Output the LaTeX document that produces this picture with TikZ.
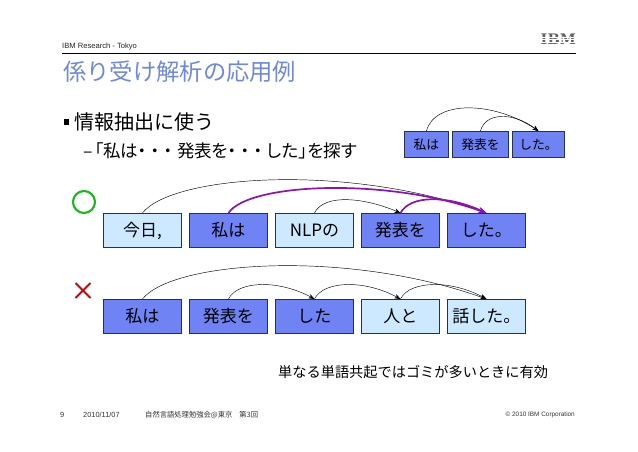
\documentclass[tikz,border=0pt]{standalone}
\usepackage{fontspec}
\setmainfont{Liberation Sans}
\newfontfamily\jpf{Noto Sans CJK JP}
\newfontfamily\jpp[RawFeature=+palt]{Noto Sans CJK JP}
\usetikzlibrary{arrows.meta}
\definecolor{titleblue}{HTML}{7088D8}
\definecolor{darkfill}{HTML}{6F83F5}
\definecolor{lightfill}{HTML}{CCE9FF}
\definecolor{edgecol}{HTML}{24324F}
\definecolor{purp}{HTML}{8A14B0}
\definecolor{okgreen}{HTML}{18B818}
\definecolor{ngred}{HTML}{C00A0A}
\newcommand{\dotk}{・\kern4.2pt}
\tikzset{
  wordbox/.style={draw=edgecol,line width=0.9pt,anchor=north west,inner sep=0pt,text=black,font=\jpf\fontsize{17}{17}\selectfont,align=center},
  big/.style={wordbox,minimum width=78pt,minimum height=34pt},
  dk/.style={fill=darkfill},
  lt/.style={fill=lightfill},
  thinarc/.style={draw=black,line width=0.45pt,-{Stealth[length=6pt,width=4.5pt]}},
  thickarc/.style={draw=purp,line width=1.7pt,-{Stealth[length=8pt,width=6pt]}},
  txt/.style={inner sep=0pt,anchor=west,text=black},
  foot/.style={txt,font=\fontsize{7.4}{8}\selectfont,text=black!80}
}
\begin{document}
\begin{tikzpicture}[x=1pt,y=-1pt]
\useasboundingbox (0,0) rectangle (638,452);
\fill[white] (0,0) rectangle (638,452);
% header
\node[txt,font=\fontsize{7.6}{8}\selectfont,text=black!85] (hdr) at (62,47) {IBM Research - Tokyo};
\coordinate (ruleL) at (62,53);
\coordinate (ruleR) at (576,53);
\draw[black,line width=0.7pt] (ruleL) -- (ruleR);
\node[inner sep=0pt,anchor=east,font=\fontspec{DejaVu Serif}\bfseries\fontsize{14.5}{15}\selectfont,text=black!62] (logo) at (576,39.5) {IBM};
\foreach \yy in {37,39.5,42}{\draw[white,line width=0.3pt] (538,\yy) -- (578,\yy);}
% title and bullets
\node[txt,font=\jpf\fontsize{23.3}{24}\selectfont,text=titleblue] (title) at (63,72) {係り受け解析の応用例};
\node[inner sep=0pt,fill=black,minimum size=5.5pt] (bul) at (66.5,122) {};
\node[txt,font=\jpf\fontsize{20}{20}\selectfont] (l1) at (74,122) {情報抽出に使う};
\node[txt,font=\jpp\fontsize{17.5}{18}\selectfont] (l2) at (83,151) {–\kern2pt「私は\dotk\dotk\dotk 発表を\dotk\dotk\dotk した」を探す};
% top small boxes
\tikzset{small/.style={wordbox,dk,minimum height=26pt,font=\jpf\fontsize{12.8}{13}\selectfont}}
\node[small,minimum width=44pt] (a1) at (404,131) {私は};
\node[small,minimum width=56pt] (a2) at (452,131) {発表を};
\node[small,minimum width=52pt] (a3) at (512,131) {した。};
\draw[thinarc] (a1.north) .. controls +(8,-31) and +(-45,-30) .. (a3.north);
\draw[thinarc] (a2.north) .. controls +(5,-19) and +(-25,-19) .. (a3.north);
% marks
\node[draw=okgreen,line width=2.1pt,circle,minimum size=22pt,inner sep=0pt] (okm) at (84,202) {};
\coordinate (x1) at (75.5,283);
\coordinate (x2) at (90.5,298);
\coordinate (x3) at (90.5,283);
\coordinate (x4) at (75.5,298);
\draw[ngred,line width=2pt] (x1) -- (x2) (x3) -- (x4);
% row 1
\node[big,lt] (b1) at (103,213) {今日,};
\node[big,dk] (b2) at (189,213) {私は};
\node[big,lt] (b3) at (275,213) {NLPの};
\node[big,dk] (b4) at (361,213) {発表を};
\node[big,dk] (b5) at (447,213) {した。};
\draw[thinarc] (b1.north) .. controls +(30,-38) and +(-140,-50) .. (b5.north);
\draw[thinarc] (b3.north) .. controls +(10,-20) and +(-35,-15) .. (b4.north);
\draw[thickarc] (b2.north) .. controls +(20,-30) and +(-100,-36) .. (b5.north);
\draw[thickarc] (b4.north) .. controls +(10,-18) and +(-40,-18) .. (b5.north);
% row 2
\node[big,dk] (c1) at (103,299) {私は};
\node[big,dk] (c2) at (189,299) {発表を};
\node[big,dk] (c3) at (275,299) {した};
\node[big,lt] (c4) at (361,299) {人と};
\node[big,lt] (c5) at (447,299) {話した。};
\draw[thinarc] (c1.north) .. controls +(30,-38) and +(-140,-50) .. (c5.north);
\draw[thinarc] (c2.north) .. controls +(10,-19) and +(-35,-19) .. (c3.north);
\draw[thinarc] (c3.north) .. controls +(10,-19) and +(-35,-19) .. (c4.north);
\draw[thinarc] (c4.north) .. controls +(10,-19) and +(-35,-19) .. (c5.north);
% note
\node[txt,font=\jpf\fontsize{14.2}{15}\selectfont] (note) at (278,372) {単なる単語共起ではゴミが多いときに有効};
% footer
\node[foot] (f1) at (60,415) {9};
\node[foot] (f2) at (83,415) {2010/11/07};
\node[foot,font=\jpf\fontsize{7.3}{8}\selectfont] (f3) at (145,415) {自然言語処理勉強会@東京\hspace{7pt}第3回};
\node[foot,anchor=east,font=\fontsize{6.4}{7}\selectfont] (f4) at (575,415) {© 2010 IBM Corporation};
\end{tikzpicture}
\end{document}
